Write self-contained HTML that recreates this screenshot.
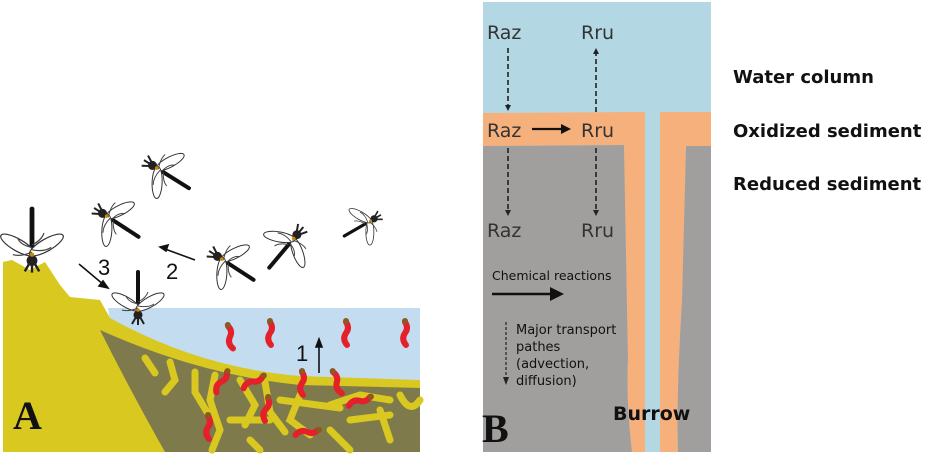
<!DOCTYPE html>
<html><head><meta charset="utf-8"><style>
html,body{margin:0;padding:0;background:#fff;width:926px;height:455px;overflow:hidden}
svg{display:block}
</style></head><body>
<svg width="926" height="455" viewBox="0 0 926 455" xmlns="http://www.w3.org/2000/svg">
<defs>
<g id="fly">
  <line x1="0" y1="0" x2="40" y2="0" stroke="#111" stroke-width="4" stroke-linecap="round"/>
  <ellipse cx="10" cy="-12" rx="16" ry="5" transform="rotate(-60 10 -12)" fill="#fff" stroke="#333" stroke-width="1"/>
  <ellipse cx="10" cy="12" rx="16" ry="5" transform="rotate(60 10 12)" fill="#fff" stroke="#333" stroke-width="1"/>
  <path d="M4 0 q-4 -10 -2 -16 M8 0 q2 -10 8 -12 M6 0 q-2 10 2 16 M10 0 q4 8 10 10" stroke="#444" stroke-width="1" fill="none"/>
  <circle cx="-3" cy="0" r="4.5" fill="#222"/>
  <path d="M-5 -2 l-7 -4 M-5 0 l-8 0 M-5 2 l-7 4" stroke="#222" stroke-width="2"/>
  <circle cx="2" cy="0" r="1.8" fill="#c80"/>
</g>
<g id="worm">
  <path d="M0 0 q4 6 0 11 q-4 6 1 12" stroke="#e4202a" stroke-width="6" fill="none" stroke-linecap="round"/>
  <circle cx="0" cy="-1" r="3" fill="#8a5a20"/>
</g>
</defs>
<!-- Panel A -->
<path d="M108 308 L420 308 L420 382 L300 378 Q200 368 110 322 Z" fill="#c3dcf0"/>
<path d="M3 262 L12 260 L30 270 L45 262 L60 285 L70 297 L100 300 L110 318 Q200 368 300 376 L420 380 L420 452 L3 452 Z" fill="#d8c81f"/>
<path d="M100 330 Q200 375 300 385 L420 388 L420 452 L165 452 Q130 390 100 330 Z" fill="#7f7a4b"/>
<g stroke="#d8c81f" stroke-width="7" fill="none" stroke-linecap="round">
<path d="M145 358 l10 15 M170 362 l5 18 l-10 12 M195 372 l0 20 l12 20 M215 375 l-5 25 l10 30 l-8 20 M240 380 l15 25 l-10 20 M265 382 l5 30 l15 20 M280 400 l60 8 M300 395 l-10 25 l20 15 M330 405 l30 -10 l30 5 M350 420 l40 -5 M380 410 l10 30 M400 395 q10 20 20 5 M230 420 l40 0 M250 440 l10 10 M330 430 l20 20"/>
</g>
<use href="#worm" transform="translate(228,326) rotate(-10)"/>
<use href="#worm" transform="translate(270,322)"/>
<use href="#worm" transform="translate(346,322)"/>
<use href="#worm" transform="translate(405,322)"/>
<use href="#worm" transform="translate(227,372) rotate(30)"/>
<use href="#worm" transform="translate(263,376) rotate(60)"/>
<use href="#worm" transform="translate(302,372)"/>
<use href="#worm" transform="translate(333,372) rotate(-20)"/>
<use href="#worm" transform="translate(370,397) rotate(70)"/>
<use href="#worm" transform="translate(268,398) rotate(10)"/>
<use href="#worm" transform="translate(208,416)"/>
<use href="#worm" transform="translate(318,430) rotate(80)"/>
<use href="#fly" transform="translate(155,167) rotate(32)"/>
<use href="#fly" transform="translate(105,215) rotate(33)"/>
<use href="#fly" transform="translate(32,257) rotate(-90) scale(1.2)"/>
<use href="#fly" transform="translate(138,312) rotate(-90)"/>
<use href="#fly" transform="translate(220,258) rotate(33)"/>
<use href="#fly" transform="translate(295,237) rotate(130)"/>
<use href="#fly" transform="translate(372,220) rotate(150) scale(0.8)"/>
<g stroke="#111" stroke-width="1.6" fill="#111">
<line x1="79" y1="264" x2="104" y2="285"/><path d="M108 288 l-9 -2 l4 -5 z"/>
<line x1="195" y1="260" x2="165" y2="249"/><path d="M160 247 l8 -2 l-2 6 z"/>
<line x1="319" y1="373" x2="319" y2="344"/><path d="M319 339 l-3 8 l6 0 z"/>
</g>
<g font-family="Liberation Sans, sans-serif" font-size="22" fill="#111">
<text x="98" y="275">3</text><text x="166" y="279">2</text><text x="296" y="361">1</text>
</g>
<text x="13" y="429" font-family="Liberation Serif, serif" font-weight="bold" font-size="40" fill="#111">A</text>
<!-- Panel B -->
<rect x="483" y="2" width="228" height="450" fill="#b3d8e4"/>
<path d="M483 113 L645 112 L645 452 L632 452 Q626 400 628 360 L624 145 L483 146 Z" fill="#f6b07c"/>
<path d="M660 112 L711 112 L711 146 L686 146 L682 300 Q676 400 678 452 L660 452 Z" fill="#f6b07c"/>
<path d="M483 146 L624 145 L628 360 Q626 400 632 452 L483 452 Z" fill="#a19f9e"/>
<path d="M686 146 L711 146 L711 452 L678 452 Q676 400 682 300 Z" fill="#a19f9e"/>
<g font-family="DejaVu Sans, sans-serif" font-size="19" fill="#333">
<text x="487" y="39">Raz</text><text x="581" y="39">Rru</text>
<text x="487" y="137">Raz</text><text x="581" y="137">Rru</text>
<text x="487" y="237">Raz</text><text x="581" y="237">Rru</text>
</g>
<g stroke="#222" stroke-width="1.6" stroke-dasharray="5,3" fill="none">
<line x1="508" y1="48" x2="508" y2="106"/>
<line x1="508" y1="148" x2="508" y2="212"/>
<line x1="596" y1="112" x2="596" y2="54"/>
<line x1="596" y1="148" x2="596" y2="212"/>
<line x1="506" y1="322" x2="506" y2="378" stroke-dasharray="3,2" stroke-width="1.2"/>
</g>
<g fill="#222">
<path d="M508 111 l-3 -6 l6 0 z"/><path d="M508 216 l-3 -6 l6 0 z"/>
<path d="M596 48 l-3 6 l6 0 z"/><path d="M596 216 l-3 -6 l6 0 z"/>
<path d="M506 385 l-3 -8 l6 0 z"/>
</g>
<line x1="532" y1="129" x2="563" y2="129" stroke="#111" stroke-width="2.2"/>
<path d="M571 129 l-10 -5 l0 10 z" fill="#111"/>
<line x1="492" y1="294" x2="552" y2="294" stroke="#111" stroke-width="2.5"/>
<path d="M564 294 l-14 -7 l0 14 z" fill="#111"/>
<g font-family="DejaVu Sans, sans-serif" font-size="12.5" fill="#111">
<text x="492" y="280">Chemical reactions</text>
</g>
<g font-family="DejaVu Sans, sans-serif" font-size="13" fill="#111">
<text x="516" y="334">Major transport</text>
<text x="516" y="351">pathes</text>
<text x="516" y="368">(advection,</text>
<text x="516" y="385">diffusion)</text>
</g>
<text x="482" y="442" font-family="Liberation Serif, serif" font-weight="bold" font-size="40" fill="#111">B</text>
<text x="613" y="420" font-family="DejaVu Sans, sans-serif" font-weight="bold" font-size="19" fill="#111">Burrow</text>
<g font-family="DejaVu Sans, sans-serif" font-weight="bold" font-size="18" fill="#111">
<text x="733" y="83">Water column</text>
<text x="733" y="137">Oxidized sediment</text>
<text x="733" y="190">Reduced sediment</text>
</g>
</svg>
</body></html>
